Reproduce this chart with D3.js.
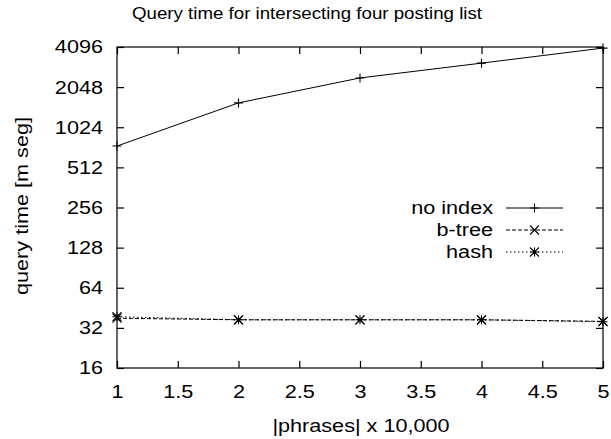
<!DOCTYPE html>
<html><head><meta charset="utf-8">
<script src="https://cdn.jsdelivr.net/npm/d3@7"></script>
<style>body{margin:0;background:#fff}svg{display:block}text{font-family:"Liberation Sans",Arial,sans-serif;fill:#000}</style>
</head><body>
<script>
const xValues = [1, 2, 3, 4, 5];
const noIndex = [740, 1560, 2400, 3100, 4020];
const bTree = [37.8, 36.8, 36.8, 36.8, 35.8];
const hash = [38.8, 36.8, 36.8, 36.8, 35.6];
const xTicks = [1, 1.5, 2, 2.5, 3, 3.5, 4, 4.5, 5];
const yTicks = [16, 32, 64, 128, 256, 512, 1024, 2048, 4096];
const seriesNames = ["no index", "b-tree", "hash"];

const W = 611, H = 439;
const L = 117, R = 603, T = 47, B = 368;
const svg = d3.select("body").append("svg").attr("width", W).attr("height", H);
const x = d3.scaleLinear().domain([1, 5]).range([L, R]);
const y = d3.scaleLog().base(2).domain([16, 4096]).range([B, T]);
const fs = 18.5, SX = 1.17;

function stretch(sel, sx) {
  sel.each(function () {
    const t = d3.select(this);
    const ax = +t.attr("x") || 0, ay = +t.attr("y") || 0;
    t.attr("transform", `translate(${ax},${ay}) scale(${sx},1) translate(${-ax},${-ay})`);
  });
}

svg.append("rect").attr("x", L).attr("y", T).attr("width", R - L).attr("height", B - T)
  .attr("fill", "none").attr("stroke", "#000").attr("stroke-width", 1.2);

const tl = 7;
const gB = svg.append("g").attr("transform", `translate(0,${B})`)
  .call(d3.axisBottom(x).tickValues(xTicks).tickSize(-tl).tickPadding(tl + 10).tickFormat(d3.format("")));
const gT = svg.append("g").attr("transform", `translate(0,${T})`)
  .call(d3.axisTop(x).tickValues(xTicks).tickSize(-tl).tickFormat(""));
const gL = svg.append("g").attr("transform", `translate(${L},0)`)
  .call(d3.axisLeft(y).tickValues(yTicks).tickSize(-tl).tickPadding(tl + 7).tickFormat(d3.format("d")));
const gR = svg.append("g").attr("transform", `translate(${R},0)`)
  .call(d3.axisRight(y).tickValues(yTicks).tickSize(-tl).tickFormat(""));
[gB, gT, gL, gR].forEach(g => {
  g.select(".domain").remove();
  g.selectAll("line").attr("stroke", "#000").attr("stroke-width", 1.2);
  g.selectAll("text").attr("font-size", fs).attr("font-family", "Liberation Sans, Arial, sans-serif").attr("fill", "#000");
  stretch(g.selectAll("text"), SX);
});

const title = svg.append("text").attr("x", 307).attr("y", 19).attr("text-anchor", "middle").attr("font-size", 17)
  .text("Query time for intersecting four posting list");
stretch(title, 1.1);
const xl = svg.append("text").attr("x", 361).attr("y", 432).attr("text-anchor", "middle").attr("font-size", fs)
  .text("|phrases| x 10,000");
stretch(xl, SX);
svg.append("text").attr("transform", `translate(28,${206}) rotate(-90) scale(${SX},1)`).attr("text-anchor", "middle")
  .attr("font-size", fs).text("query time [m seg]");

const dashes = [null, "4,2", "1.5,2.5"];
const allSeries = [noIndex, bTree, hash];
const line = d3.line().x((d, i) => x(xValues[i])).y(d => y(d));

function marker(g, type, cx, cy) {
  const s = 4.5;
  let p = "";
  if (type === 0 || type === 2) p += `M${cx - s},${cy}H${cx + s}M${cx},${cy - s}V${cy + s}`;
  if (type === 1 || type === 2) p += `M${cx - s},${cy - s}L${cx + s},${cy + s}M${cx - s},${cy + s}L${cx + s},${cy - s}`;
  g.append("path").attr("d", p).attr("stroke", "#000").attr("stroke-width", 1.1).attr("fill", "none");
}

allSeries.forEach((vals, k) => {
  const g = svg.append("g");
  g.append("path").datum(vals).attr("d", line).attr("fill", "none").attr("stroke", "#000")
    .attr("stroke-width", 1).attr("stroke-dasharray", dashes[k]);
  vals.forEach((v, i) => marker(g, k, x(xValues[i]), y(v)));
});

const legY = [208, 230, 252];
seriesNames.forEach((n, k) => {
  const t = svg.append("text").attr("x", 493).attr("y", legY[k] + 6.5).attr("text-anchor", "end").attr("font-size", fs).text(n);
  stretch(t, SX);
  svg.append("line").attr("x1", 506).attr("x2", 563).attr("y1", legY[k]).attr("y2", legY[k])
    .attr("stroke", "#000").attr("stroke-width", 1).attr("stroke-dasharray", dashes[k]);
  marker(svg, k, 534.5, legY[k]);
});
</script>
</body></html>
